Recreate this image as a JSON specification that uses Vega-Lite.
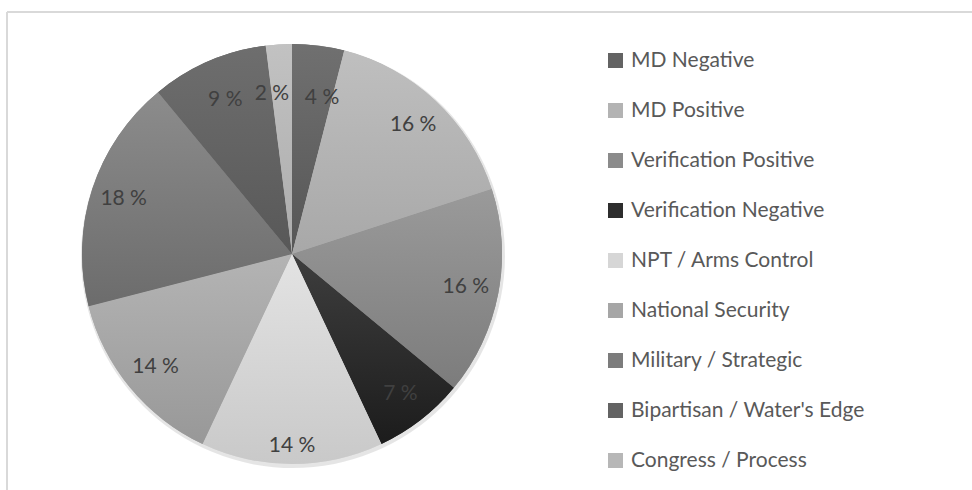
{
  "$schema": "https://vega.github.io/schema/vega-lite/v6.json",
  "autosize": "none",
  "padding": {"left": 7, "top": 12, "right": 0, "bottom": 0},
  "width": 965,
  "height": 478,
  "background": "white",
  "config": {
    "view": {"stroke": null},
    "font": "Lato"
  },
  "data": {
    "values": [
      {"idx": 1, "category": "MD Negative", "pct": 4},
      {"idx": 2, "category": "MD Positive", "pct": 16},
      {"idx": 3, "category": "Verification Positive", "pct": 16},
      {"idx": 4, "category": "Verification Negative", "pct": 7},
      {"idx": 5, "category": "NPT / Arms Control", "pct": 14},
      {"idx": 6, "category": "National Security", "pct": 14},
      {"idx": 7, "category": "Military / Strategic", "pct": 18},
      {"idx": 8, "category": "Bipartisan / Water's Edge", "pct": 9},
      {"idx": 9, "category": "Congress / Process", "pct": 2}
    ]
  },
  "transform": [
    {"stack": "pct", "groupby": [], "sort": [{"field": "idx", "order": "ascending"}], "as": ["s0", "s1"]},
    {"calculate": "datum.pct + ' %'", "as": "label"}
  ],
  "layer": [
    {"transform": [{"filter": "datum.idx == 1"}], "mark": {"type": "rule", "color": "#d9d9d9", "strokeWidth": 2}, "encoding": {"x": {"value": 0}, "y": {"value": 0}, "y2": {"value": 480}}},
    {"transform": [{"filter": "datum.idx == 1"}], "mark": {"type": "rule", "color": "#d9d9d9", "strokeWidth": 2}, "encoding": {"x": {"value": 0}, "x2": {"value": 966}, "y": {"value": 0}}},
    {"transform": [{"filter": "datum.idx == 1"}], "mark": {"type": "arc", "outerRadius": 212, "x": 286, "y": 244, "fill": "#000000", "opacity": 0.1}},
    {
      "mark": {"type": "arc", "outerRadius": 210, "x": 285, "y": 242, "stroke": null},
      "encoding": {
        "theta": {"field": "s0", "type": "quantitative", "scale": {"domain": [0, 100]}},
        "theta2": {"field": "s1"},
        "color": {
          "field": "category",
          "type": "nominal",
          "scale": {
            "domain": ["MD Negative", "MD Positive", "Verification Positive", "Verification Negative", "NPT / Arms Control", "National Security", "Military / Strategic", "Bipartisan / Water's Edge", "Congress / Process"],
            "range": ["#636363", "#b3b3b3", "#8b8b8b", "#2d2d2d", "#d6d6d6", "#a6a6a6", "#7c7c7c", "#636363", "#b7b7b7"]
          },
          "legend": {
            "title": null,
            "orient": "none",
            "legendX": 598,
            "legendY": 38,
            "padding": 0,
            "symbolType": "square",
            "symbolSize": 225,
            "symbolStrokeWidth": 0,
            "labelFont": "Lato",
            "labelFontSize": 21,
            "labelColor": "#595959",
            "labelOffset": 5,
            "rowPadding": 28,
            "labelLimit": 400
          }
        }
      }
    },
    {"transform": [{"filter": "datum.idx == 1"}], "mark": {"type": "arc", "outerRadius": 210, "x": 285, "y": 242, "fill": {"gradient": "linear", "x1": 0, "y1": 0, "x2": 0, "y2": 1, "stops": [{"offset": 0, "color": "#707070"}, {"offset": 1, "color": "#565656"}]}}, "encoding": {"theta": {"field": "s0", "type": "quantitative"}, "theta2": {"field": "s1"}}},
    {"transform": [{"filter": "datum.idx == 2"}], "mark": {"type": "arc", "outerRadius": 210, "x": 285, "y": 242, "fill": {"gradient": "linear", "x1": 0, "y1": 0, "x2": 0, "y2": 1, "stops": [{"offset": 0, "color": "#bfbfbf"}, {"offset": 1, "color": "#a8a8a8"}]}}, "encoding": {"theta": {"field": "s0", "type": "quantitative"}, "theta2": {"field": "s1"}}},
    {"transform": [{"filter": "datum.idx == 3"}], "mark": {"type": "arc", "outerRadius": 210, "x": 285, "y": 242, "fill": {"gradient": "linear", "x1": 0, "y1": 0, "x2": 0, "y2": 1, "stops": [{"offset": 0, "color": "#9a9a9a"}, {"offset": 1, "color": "#7c7c7c"}]}}, "encoding": {"theta": {"field": "s0", "type": "quantitative"}, "theta2": {"field": "s1"}}},
    {"transform": [{"filter": "datum.idx == 4"}], "mark": {"type": "arc", "outerRadius": 210, "x": 285, "y": 242, "fill": {"gradient": "linear", "x1": 0, "y1": 0, "x2": 0, "y2": 1, "stops": [{"offset": 0, "color": "#3e3e3e"}, {"offset": 1, "color": "#1c1c1c"}]}}, "encoding": {"theta": {"field": "s0", "type": "quantitative"}, "theta2": {"field": "s1"}}},
    {"transform": [{"filter": "datum.idx == 5"}], "mark": {"type": "arc", "outerRadius": 210, "x": 285, "y": 242, "fill": {"gradient": "linear", "x1": 0, "y1": 0, "x2": 0, "y2": 1, "stops": [{"offset": 0, "color": "#e3e3e3"}, {"offset": 1, "color": "#c9c9c9"}]}}, "encoding": {"theta": {"field": "s0", "type": "quantitative"}, "theta2": {"field": "s1"}}},
    {"transform": [{"filter": "datum.idx == 6"}], "mark": {"type": "arc", "outerRadius": 210, "x": 285, "y": 242, "fill": {"gradient": "linear", "x1": 0, "y1": 0, "x2": 0, "y2": 1, "stops": [{"offset": 0, "color": "#b4b4b4"}, {"offset": 1, "color": "#989898"}]}}, "encoding": {"theta": {"field": "s0", "type": "quantitative"}, "theta2": {"field": "s1"}}},
    {"transform": [{"filter": "datum.idx == 7"}], "mark": {"type": "arc", "outerRadius": 210, "x": 285, "y": 242, "fill": {"gradient": "linear", "x1": 0, "y1": 0, "x2": 0, "y2": 1, "stops": [{"offset": 0, "color": "#8c8c8c"}, {"offset": 1, "color": "#6c6c6c"}]}}, "encoding": {"theta": {"field": "s0", "type": "quantitative"}, "theta2": {"field": "s1"}}},
    {"transform": [{"filter": "datum.idx == 8"}], "mark": {"type": "arc", "outerRadius": 210, "x": 285, "y": 242, "fill": {"gradient": "linear", "x1": 0, "y1": 0, "x2": 0, "y2": 1, "stops": [{"offset": 0, "color": "#6e6e6e"}, {"offset": 1, "color": "#585858"}]}}, "encoding": {"theta": {"field": "s0", "type": "quantitative"}, "theta2": {"field": "s1"}}},
    {"transform": [{"filter": "datum.idx == 9"}], "mark": {"type": "arc", "outerRadius": 210, "x": 285, "y": 242, "fill": {"gradient": "linear", "x1": 0, "y1": 0, "x2": 0, "y2": 1, "stops": [{"offset": 0, "color": "#c2c2c2"}, {"offset": 1, "color": "#acacac"}]}}, "encoding": {"theta": {"field": "s0", "type": "quantitative"}, "theta2": {"field": "s1"}}},
    {
      "mark": {"type": "text", "radius": 177, "x": 285, "y": 242, "font": "Lato", "fontSize": 21, "color": "#404040"},
      "encoding": {
        "theta": {"field": "pct", "type": "quantitative", "stack": true},
        "order": {"field": "idx", "type": "quantitative"},
        "text": {"condition": {"test": "indexof([2,3,4,6,7], datum.idx) >= 0", "field": "label"}, "value": ""}
      }
    },
    {
      "mark": {"type": "text", "radius": 168, "x": 285, "y": 242, "font": "Lato", "fontSize": 21, "color": "#404040"},
      "encoding": {
        "theta": {"field": "pct", "type": "quantitative", "stack": true},
        "order": {"field": "idx", "type": "quantitative"},
        "text": {"condition": {"test": "datum.idx == 8", "field": "label"}, "value": ""}
      }
    },
    {
      "mark": {"type": "text", "radius": 192, "x": 285, "y": 242, "font": "Lato", "fontSize": 21, "color": "#404040"},
      "encoding": {
        "theta": {"field": "pct", "type": "quantitative", "stack": true},
        "order": {"field": "idx", "type": "quantitative"},
        "text": {"condition": {"test": "datum.idx == 5", "field": "label"}, "value": ""}
      }
    },
    {
      "mark": {"type": "text", "radius": 160, "x": 285, "y": 242, "dx": 10, "dy": 3, "font": "Lato", "fontSize": 21, "color": "#404040"},
      "encoding": {
        "theta": {"field": "pct", "type": "quantitative", "stack": true},
        "order": {"field": "idx", "type": "quantitative"},
        "text": {"condition": {"test": "datum.idx == 1", "field": "label"}, "value": ""}
      }
    },
    {
      "mark": {"type": "text", "radius": 160, "x": 285, "y": 242, "dx": -10, "font": "Lato", "fontSize": 21, "color": "#404040"},
      "encoding": {
        "theta": {"field": "pct", "type": "quantitative", "stack": true},
        "order": {"field": "idx", "type": "quantitative"},
        "text": {"condition": {"test": "datum.idx == 9", "field": "label"}, "value": ""}
      }
    }
  ]
}
